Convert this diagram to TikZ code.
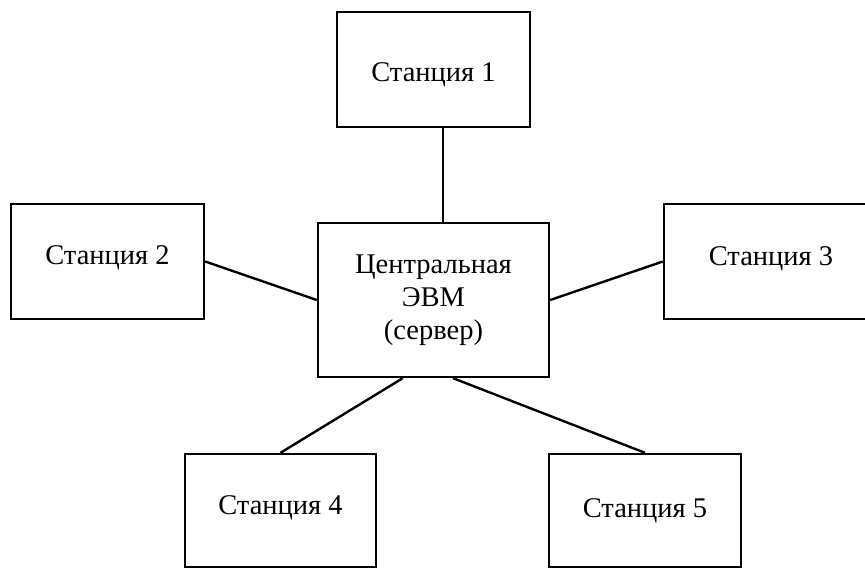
\documentclass[tikz,border=0pt]{standalone}
\usepackage{fontspec}
\setmainfont{Liberation Serif}
\usetikzlibrary{calc}

% raise a label visually without changing the space it takes
\newcommand{\liftlabel}[2]{\raisebox{#1}[\height][\depth]{#2}}

\begin{document}
\begin{tikzpicture}[x=1pt,y=-1pt,
  stationbox/.style={draw=black, line width=2.4pt, rectangle, inner sep=0pt,
    align=center, font=\fontsize{28.5}{33}\selectfont},
  link/.style={draw=black, line width=2.4pt}]
  \useasboundingbox (0,0) rectangle (865,568);
  \clip (0,0) rectangle (865,568);

  % central computer
  \node[stationbox, minimum width=231pt, minimum height=154pt] (srv) at (433.5,300)
    {Центральная\\ЭВМ\\(сервер)};

  % workstations
  \node[stationbox, minimum width=193pt, minimum height=115pt] (s1) at (433.5,69.5) {\liftlabel{-5pt}{Станция 1}};
  \node[stationbox, minimum width=193pt, minimum height=115pt] (s2) at (107.5,261.5) {\liftlabel{4pt}{Станция 2}};
  \node[stationbox, minimum width=214pt, minimum height=115pt] (s3) at (771,261.5) {\liftlabel{3pt}{Станция 3}};
  \node[stationbox, minimum width=191pt, minimum height=113pt] (s4) at (280.5,510.5) {\liftlabel{3pt}{Станция 4}};
  \node[stationbox, minimum width=192pt, minimum height=113pt] (s5) at (645,510.5) {Станция 5};

  % star links
  \coordinate (s1foot) at ($(s1.south west)!0.55!(s1.south east)$);
  \draw[link] (s1foot) -- (s1foot |- srv.north);
  \draw[link] (s2.east) -- (srv.west);
  \draw[link] (srv.east) -- (s3.west);
  \draw[link] ($(srv.south west)!0.368!(srv.south east)$) -- (s4.north);
  \draw[link] ($(srv.south west)!0.584!(srv.south east)$) -- (s5.north);
\end{tikzpicture}
\end{document}
